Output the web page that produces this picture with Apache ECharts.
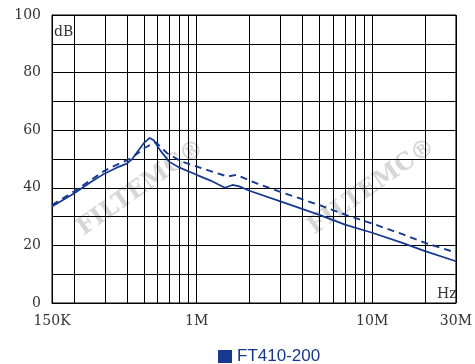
<!DOCTYPE html>
<html>
<head>
<meta charset="utf-8">
<script src="https://cdn.jsdelivr.net/npm/echarts@6/dist/echarts.min.js"></script>
<style>html,body{margin:0;padding:0;background:#fff}#c{width:475px;height:364px}</style>
</head>
<body>
<div id="c"></div>
<script>
// Frequencies (Hz) and attenuation (dB)
const solidFreq = [150000, 200000, 250000, 300000, 350000, 400000, 430000, 460000, 500000, 540000, 570000, 620000, 700000, 800000, 1000000, 1200000, 1450000, 1600000, 1750000, 2000000, 3000000, 5000000, 7000000, 10000000, 15000000, 20000000, 30000000];
const solidDb   = [33.5, 38, 42, 45, 47, 48.4, 50, 52.5, 55.5, 57.3, 56.5, 53, 49, 47, 44.5, 42.5, 40, 41, 40.5, 39, 35.3, 30.6, 27.2, 24.4, 20.8, 18, 14.5];
const dashFreq  = [150000, 200000, 250000, 300000, 350000, 400000, 450000, 510000, 585000, 680000, 820000, 1000000, 1500000, 1680000, 2200000, 3000000, 5000000, 7000000, 10000000, 15000000, 20000000, 30000000];
const dashDb    = [34, 38.7, 42.7, 46, 48, 49.5, 51.5, 54, 55.8, 52, 49.1, 47.4, 43.9, 44.5, 41.5, 38.6, 34, 30.7, 27.6, 23.8, 20.9, 17.5];
const gridFreq  = [200000, 300000, 400000, 500000, 600000, 700000, 800000, 900000, 2000000, 3000000, 4000000, 5000000, 6000000, 7000000, 8000000, 9000000, 20000000];
const xLabels   = {150000: '150K', 1000000: '1M', 10000000: '10M', 30000000: '30M'};
const seriesName = 'FT410-200';

const navy = '#15398f';
const chart = echarts.init(document.getElementById('c'));
const pairs = (xs, ys) => xs.map((x, i) => [x, ys[i]]);
const wm = {text: 'FILTEMC®', fontFamily: 'DejaVu Serif', fontWeight: 'bold', fontSize: 24, fill: '#d6d6d6', align: 'center', verticalAlign: 'middle'};

chart.setOption({
  animation: false,
  grid: {left: 52, right: 15, top: 15, bottom: 61, show: true, borderColor: '#000', borderWidth: 1},
  legend: {
    data: [{name: seriesName, icon: 'rect'}],
    left: 213, top: 343, itemWidth: 14, itemHeight: 13, itemGap: 8,
    textStyle: {fontFamily: 'Liberation Sans', fontSize: 17, color: '#17378a'}
  },
  xAxis: {
    type: 'log', logBase: 10, min: 150000, max: 30000000,
    axisLine: {show: true, lineStyle: {color: '#000', width: 1}},
    axisTick: {show: false},
    splitLine: {show: true, lineStyle: {color: '#000', width: 1}},
    axisLabel: {
      margin: 11, fontFamily: 'DejaVu Serif', fontSize: 14, color: '#333',
      showMinLabel: true, showMaxLabel: true,
      formatter: v => xLabels[Math.round(v)] || ''
    }
  },
  yAxis: {
    type: 'value', min: 0, max: 100, interval: 10,
    axisLine: {show: true, lineStyle: {color: '#000', width: 1}},
    axisTick: {show: false},
    splitLine: {show: true, lineStyle: {color: '#000', width: 1}},
    axisLabel: {
      margin: 11, fontFamily: 'DejaVu Serif', fontSize: 14, color: '#333',
      formatter: v => (v % 20 === 0 ? String(v) : '')
    }
  },
  graphic: [
    {type: 'text', left: 54, top: 25, z: 10, style: {text: 'dB', fontFamily: 'DejaVu Serif', fontSize: 14, fill: '#333'}},
    {type: 'text', left: 437, top: 287, z: 10, style: {text: 'Hz', fontFamily: 'DejaVu Serif', fontSize: 14, fill: '#333'}},
    {type: 'text', x: 141, y: 188, rotation: 0.61, z: -1, style: wm},
    {type: 'text', x: 372, y: 187, rotation: 0.61, z: -1, style: wm}
  ],
  series: [
    {
      name: 'grid', type: 'line', data: [], z: 1, silent: true,
      markLine: {
        silent: true, symbol: 'none', label: {show: false},
        lineStyle: {color: '#000', width: 1, type: 'solid'},
        data: gridFreq.map(f => ({xAxis: f}))
      }
    },
    {
      name: seriesName, type: 'line', data: pairs(solidFreq, solidDb), z: 5,
      showSymbol: false, color: navy, lineStyle: {color: navy, width: 1.7}
    },
    {
      name: seriesName + ' (2)', type: 'line', data: pairs(dashFreq, dashDb), z: 5,
      showSymbol: false, color: navy, lineStyle: {color: navy, width: 1.9, type: [7, 5]}
    }
  ]
});
</script>
</body>
</html>
